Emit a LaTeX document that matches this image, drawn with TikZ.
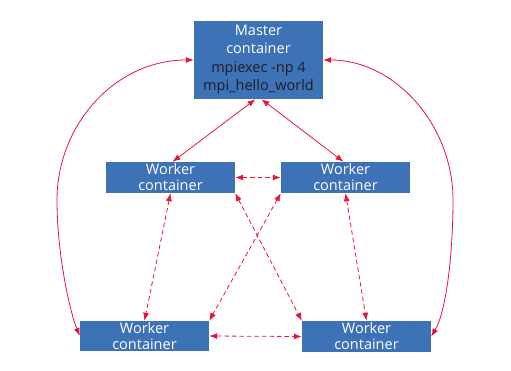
\documentclass[tikz,border=0pt]{standalone}
\usepackage{fontspec}
\setmainfont{Open Sans}
\usetikzlibrary{arrows.meta}
\definecolor{boxblue}{RGB}{62,114,182}
\definecolor{linkred}{RGB}{232,20,58}
\definecolor{cmdtxt}{RGB}{30,30,35}
\begin{document}
\begin{tikzpicture}[x=1pt,y=-1pt,
  box/.style={fill=boxblue,draw=none,minimum width=129pt,inner sep=0pt,align=center,text=white,
    font=\fontsize{14.5}{16}\selectfont},
  link/.style={linkred,line width=0.8pt,{Latex[length=8pt,width=6pt]}-{Latex[length=8pt,width=6pt]}},
  dlink/.style={link,dash pattern=on 4.5pt off 3pt}]
\useasboundingbox (0,0) rectangle (511,370);
\node[box,minimum height=78pt,font=\fontsize{14.5}{18}\selectfont] (m) at (258.5,60)
  {Master\\container\\[1pt]\textcolor{cmdtxt}{mpiexec -np 4}\\\textcolor{cmdtxt}{mpi\_hello\_world}};
\node[box,minimum height=31pt] (tl) at (170.5,177.5) {Worker\\container};
\node[box,minimum height=31pt] (tr) at (345.5,177.5) {Worker\\container};
\node[box,minimum height=30pt] (bl) at (144.5,336) {Worker\\container};
\node[box,minimum height=31pt] (br) at (366.5,336.5) {Worker\\container};
% master to top workers
\draw[link] ([xshift=-3pt]m.south) -- ([xshift=2pt]tl.north);
\draw[link] ([xshift=3pt]m.south) -- ([xshift=-2pt]tr.north);
% outer curves
\draw[link] (bl.west) .. controls (70,312) and (57,255) .. (57,200)
  .. controls (57,125) and (115,60) .. (m.west);
\draw[link] (br.east) .. controls (446,312) and (453,255) .. (453,200)
  .. controls (453,125) and (395,60) .. (m.east);
% dashed worker links
\draw[dlink] (tl.east) -- (tr.west);
\draw[dlink] (bl.east) -- (br.west);
\draw[dlink] (tl.south) -- (bl.north);
\draw[dlink] (tl.south east) -- (br.north west);
\draw[dlink] (tr.south west) -- (bl.north east);
\draw[dlink] (tr.south) -- (br.north);
\end{tikzpicture}
\end{document}
